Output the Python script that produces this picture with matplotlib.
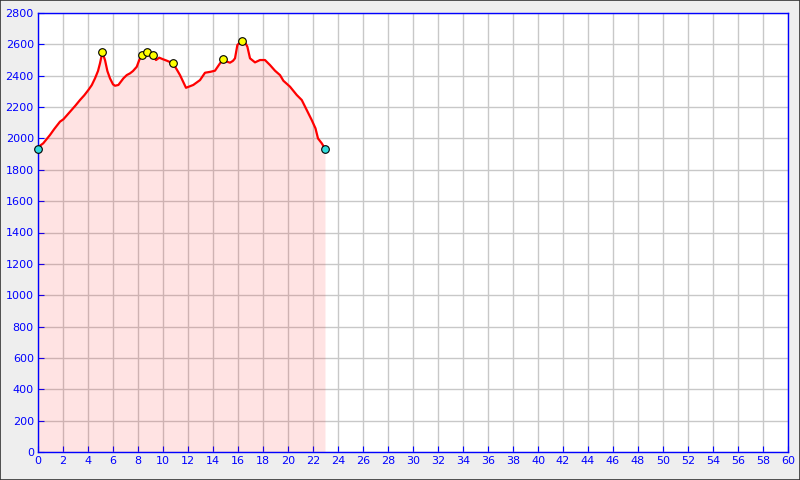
import matplotlib
matplotlib.use("Agg")
import matplotlib.pyplot as plt
from matplotlib.patches import Rectangle

# Distance (km) and elevation (m) profile
dist = [0.0, 0.1, 0.42, 0.96, 1.3, 1.76, 2.03, 2.56, 3.0, 3.36, 3.7, 4.03, 4.3, 4.56,
        4.8, 4.96, 5.15, 5.36, 5.55, 5.76, 6.0, 6.16, 6.43, 6.83, 7.1, 7.36, 7.6, 7.9,
        8.1, 8.3, 8.75, 9.17, 9.44, 9.7, 10.0, 10.3, 10.8, 11.1, 11.36, 11.84, 12.42,
        12.96, 13.36, 13.8, 14.16, 14.56, 14.83, 15.1, 15.36, 15.6, 15.76, 15.95, 16.3,
        16.55, 16.75, 16.96, 17.36, 17.76, 18.16, 18.56, 18.96, 19.36, 19.63, 20.16,
        20.7, 21.1, 21.5, 21.9, 22.2, 22.4, 22.7, 22.96]
elev = [1935, 1950, 1969, 2022, 2060, 2107, 2122, 2170, 2210, 2245, 2275, 2309, 2340,
        2383, 2430, 2479, 2549, 2500, 2430, 2383, 2345, 2336, 2341, 2383, 2404, 2415,
        2430, 2457, 2500, 2530, 2549, 2532, 2500, 2515, 2505, 2496, 2479, 2440, 2404,
        2323, 2341, 2372, 2419, 2425, 2432, 2479, 2504, 2490, 2483, 2495, 2511, 2596,
        2621, 2615, 2585, 2511, 2485, 2500, 2500, 2468, 2432, 2404, 2368, 2330, 2277,
        2245, 2181, 2117, 2064, 2000, 1969, 1935]

# Waypoints
peak_x = [5.15, 8.3, 8.75, 9.17, 10.8, 14.83, 16.3]
peak_y = [2549, 2530, 2549, 2532, 2479, 2504, 2621]
end_x = [0.0, 22.96]
end_y = [1935, 1935]

x_ticks = list(range(0, 61, 2))
y_ticks = list(range(0, 2801, 200))

fig = plt.figure(figsize=(8, 4.8), dpi=100, facecolor="#eeeeee")
fig.patches.append(Rectangle((0, 0), 1, 1, transform=fig.transFigure, fill=False,
                             edgecolor="#333333", linewidth=1.2, zorder=10))
ax = fig.add_axes([38 / 800, 1 - 452 / 480, 750 / 800, 439 / 480])
ax.set_facecolor("white")
ax.set_xlim(0, 60)
ax.set_ylim(0, 2800)
ax.set_xticks(x_ticks)
ax.set_yticks(y_ticks)
ax.grid(True, color="#c8c8c8", linewidth=1, zorder=0)
ax.set_axisbelow(True)

ax.fill_between(dist, elev, 0, color="#ff0000", alpha=0.11, linewidth=0, zorder=2)
ax.plot(dist, elev, color="#ff0000", linewidth=1.6, zorder=3)
ax.plot(peak_x, peak_y, linestyle="none", marker="o", markersize=5.5,
        markerfacecolor="#ffff00", markeredgecolor="black", markeredgewidth=0.8, zorder=4,
        clip_on=False)
ax.plot(end_x, end_y, linestyle="none", marker="o", markersize=5.5,
        markerfacecolor="#33dddd", markeredgecolor="black", markeredgewidth=0.8, zorder=4,
        clip_on=False)

for s in ax.spines.values():
    s.set_color("#0000ff")
    s.set_linewidth(1.0)
ax.tick_params(axis="both", direction="in", length=4, color="#0000ff",
               labelcolor="#0000ff", labelsize=8, pad=3)

fig.savefig("out.png", dpi=100, facecolor=fig.get_facecolor())
